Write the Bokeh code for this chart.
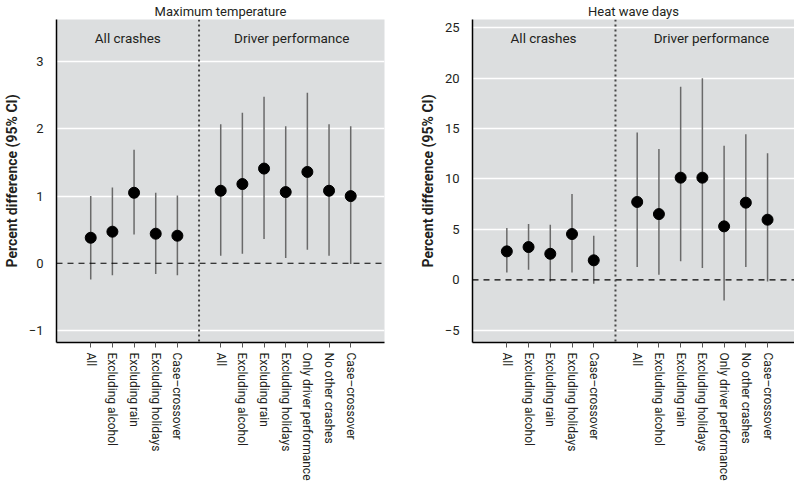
from bokeh.plotting import figure
from bokeh.layouts import row
from bokeh.models import FixedTicker, Span, Title
from bokeh.core.properties import value
from bokeh.embed import file_html
from bokeh.resources import INLINE

# ---------------- data ----------------
all_crash_labels = ["All", "Excluding alcohol", "Excluding rain", "Excluding holidays", "Case\u2013crossover"]
driver_labels = ["All", "Excluding alcohol", "Excluding rain", "Excluding holidays",
                 "Only driver performance", "No other crashes", "Case\u2013crossover"]
positions = [1, 2, 3, 4, 5, 7, 8, 9, 10, 11, 12, 13]
group_divider = 6
group_names = ["All crashes", "Driver performance"]

tmax_est = [0.38, 0.47, 1.05, 0.44, 0.41, 1.08, 1.18, 1.41, 1.06, 1.36, 1.08, 1.00]
tmax_lo = [-0.24, -0.18, 0.43, -0.16, -0.18, 0.11, 0.14, 0.36, 0.08, 0.20, 0.11, -0.01]
tmax_hi = [1.00, 1.13, 1.69, 1.05, 1.01, 2.07, 2.24, 2.48, 2.04, 2.54, 2.07, 2.04]

hw_est = [2.82, 3.25, 2.58, 4.54, 1.93, 7.72, 6.52, 10.13, 10.13, 5.30, 7.65, 5.96]
hw_lo = [0.73, 0.99, -0.16, 0.73, -0.40, 1.26, 0.50, 1.83, 1.16, -2.05, 1.26, -0.16]
hw_hi = [5.13, 5.53, 5.46, 8.51, 4.37, 14.60, 12.98, 19.14, 20.00, 13.30, 14.44, 12.55]

tmax_ticks = [-1, 0, 1, 2, 3]
hw_ticks = [-5, 0, 5, 10, 15, 20, 25]

FONT = "Roboto"
TXT = "#231f20"
BG = "#dcdedf"


def make_panel(title, est, lo, hi, yticks, x_range, y_range, border_left, border_right,
               frame_w, label_y, label_x):
    p = figure(frame_width=frame_w, frame_height=323, x_range=x_range, y_range=y_range,
               output_backend="svg", toolbar_location=None,
               min_border_left=border_left, min_border_right=border_right,
               min_border_top=0, min_border_bottom=0)
    p.title = Title(text=title, align="center", text_font=FONT, text_font_size="13px",
                    text_font_style="normal", text_color=TXT, standoff=2, offset=0)
    p.background_fill_color = BG
    p.border_fill_color = "white"
    p.outline_line_color = None

    # grid
    p.xgrid.grid_line_color = None
    p.ygrid.ticker = FixedTicker(ticks=[t for t in yticks if t != 0])
    p.ygrid.grid_line_color = "white"
    p.ygrid.grid_line_width = 1.5

    # y axis
    p.yaxis.ticker = FixedTicker(ticks=yticks)
    p.yaxis.major_label_overrides = {t: (("\u2212" + str(-t)) if t < 0 else str(t)) for t in yticks}
    p.yaxis.axis_label = "Percent difference (95% CI)"
    p.yaxis.axis_label_text_font = FONT
    p.yaxis.axis_label_text_font_style = "bold"
    p.yaxis.axis_label_text_font_size = "14px"
    p.yaxis.axis_label_text_color = TXT
    p.yaxis.axis_label_standoff = 6
    p.yaxis.major_label_text_font = FONT
    p.yaxis.major_label_text_font_size = "13px"
    p.yaxis.major_label_text_color = TXT
    p.yaxis.major_label_standoff = 7
    p.yaxis.major_tick_line_color = None
    p.yaxis.minor_tick_line_color = None
    p.yaxis.axis_line_color = "black"
    p.yaxis.axis_line_width = 1.5

    # x axis
    labels = all_crash_labels + driver_labels
    p.xaxis.ticker = FixedTicker(ticks=positions)
    p.xaxis.major_label_overrides = {pos: lab for pos, lab in zip(positions, labels)}
    p.xaxis.major_label_orientation = "vertical"
    p.xaxis.major_label_text_font = FONT
    p.xaxis.major_label_text_font_size = "12px"
    p.xaxis.major_label_text_color = TXT
    p.xaxis.major_label_standoff = 5
    p.xaxis.major_tick_out = 5
    p.xaxis.major_tick_in = 0
    p.xaxis.major_tick_line_color = "#555555"
    p.xaxis.minor_tick_line_color = None
    p.xaxis.axis_line_color = "black"
    p.xaxis.axis_line_width = 1.5

    # reference lines
    p.add_layout(Span(location=0, dimension="width", line_color="black",
                      line_dash="6 5", line_width=1.2))
    p.add_layout(Span(location=group_divider, dimension="height", line_color="#444444",
                      line_dash="2 3", line_width=2))

    # CIs and estimates
    p.segment(x0=positions, y0=lo, x1=positions, y1=hi, line_color="#6a6a6a", line_width=1.5)
    p.scatter(x=positions, y=est, size=11, fill_color="black", line_color="black")

    # group labels
    p.text(x=label_x, y=[label_y, label_y], text=group_names, text_align="center",
           text_baseline="middle", text_font=value(FONT), text_font_size="13.5px",
           text_color=TXT)
    return p


p1 = make_panel("Maximum temperature", tmax_est, tmax_lo, tmax_hi, tmax_ticks,
                (-0.58, 14.56), (-1.18, 3.63), 46, 18, 328, 3.35, [2.71, 10.28])
p2 = make_panel("Heat wave days", hw_est, hw_lo, hw_hi, hw_ticks,
                (-0.58, 14.24), (-6.22, 25.82), 70, 0, 322, 24.0, [2.69, 10.42])

layout = row(p1, p2, spacing=0)
open("out.html", "w").write(file_html(layout, INLINE))
